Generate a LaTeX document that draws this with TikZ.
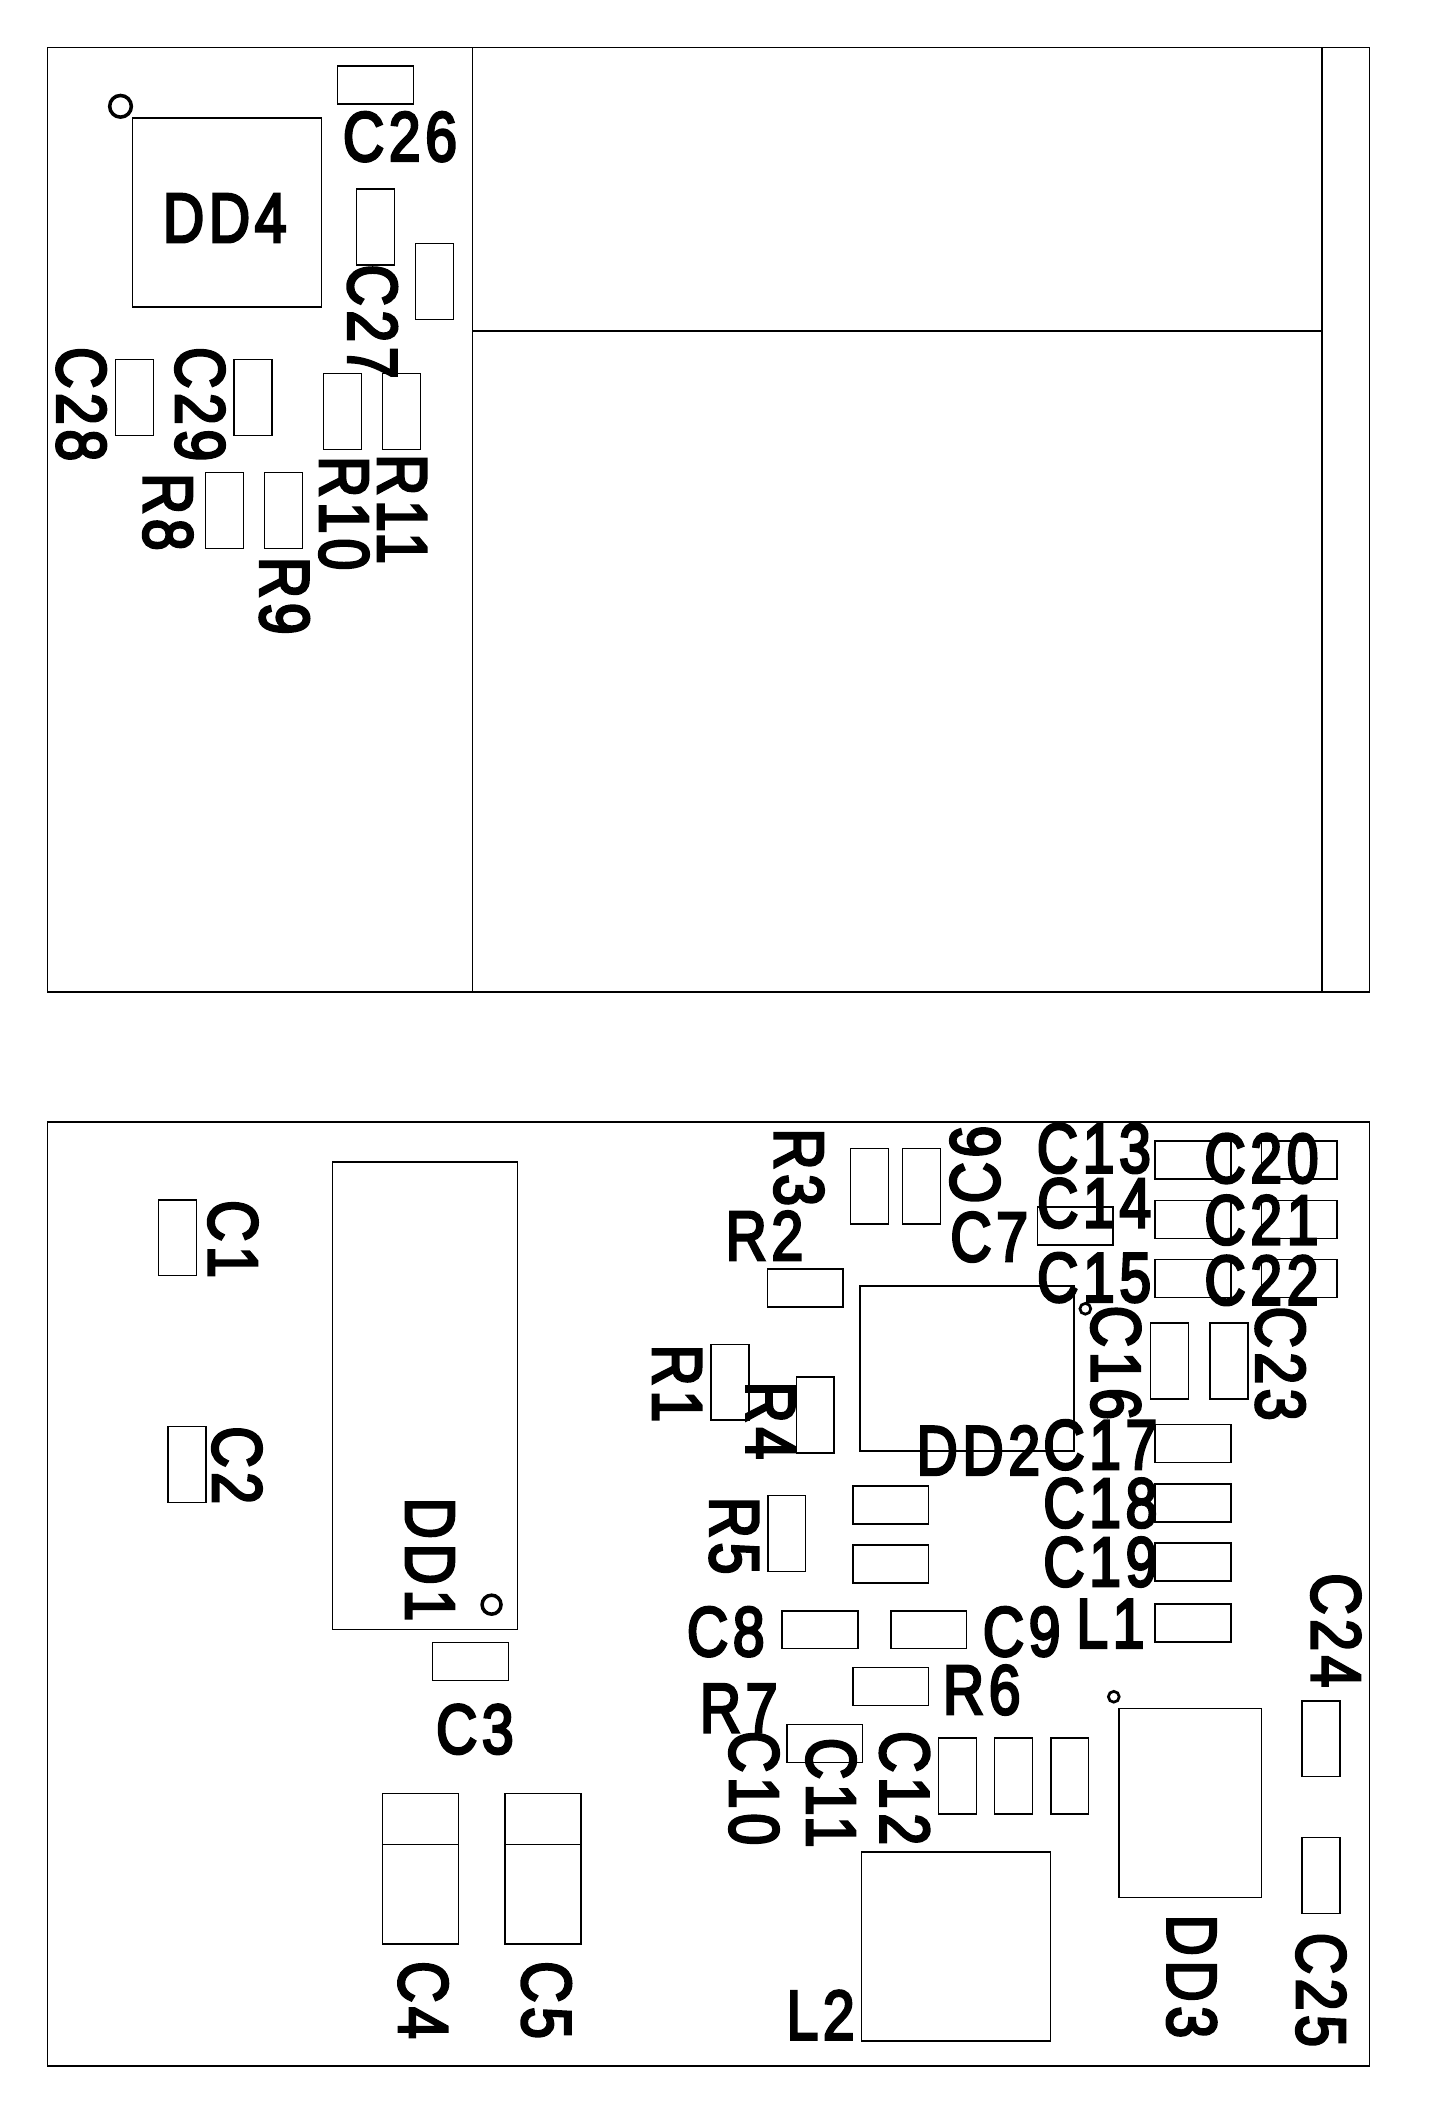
\documentclass[tikz,border=0pt]{standalone}
\usepackage{fontspec}
\setmainfont{Liberation Sans}
\newfontfamily\reffont[FakeBold=4,LetterSpace=8]{Liberation Sans}
\usepackage{tikz}

\begin{document}
\begin{tikzpicture}[x=1pt,y=-1pt]

\tikzstyle{board} = [line width=1.1pt]
\tikzstyle{outline} = [rectangle, draw=black, line width=1.1pt, inner sep=0pt]
\tikzstyle{padh} = [outline, minimum width=56pt, minimum height=28pt]
\tikzstyle{padv} = [outline, minimum width=28pt, minimum height=56pt]
\tikzstyle{chip} = [outline]
\tikzstyle{pin} = [circle, draw=black, line width=2.6pt, inner sep=0pt]
\tikzstyle{ref} = [inner sep=0pt, font=\reffont\fontsize{51.6}{52}\selectfont]
\tikzstyle{refcw} = [ref, rotate=-90]
\tikzstyle{refccw} = [ref, rotate=90]
\newcommand{\nm}[1]{\scalebox{0.82}[1]{#1}}

\useasboundingbox (0,0) rectangle (1066.2,1570);

% Upper board
\coordinate (ua) at (35,35);
\coordinate (ub) at (1011.5,732.5);
\coordinate (us) at (349,35);
\coordinate (ue) at (349,732.5);
\coordinate (ut) at (976.5,35);
\coordinate (uf) at (976.5,732.5);
\coordinate (um) at (349,244.5);
\coordinate (un) at (976.5,244.5);
\draw [board] (ua) rectangle (ub);
\draw [board] (us) -- (ue);
\draw [line width=1.5pt] (ut) -- (uf);
\draw [board] (um) -- (un);

\node (dd4) [chip, minimum width=139.5pt, minimum height=139.5pt] at (167.7,157) {};
\node (dd4pin) [pin, minimum size=16pt] at (89,78.5) {};
\node (c26) [padh] at (277.3,62.8) {};
\node (c27) [padv] at (277.4,167.6) {};
\node (c27b) [padv] at (321,208) {};
\node (c28) [padv] at (99.4,293.5) {};
\node (c29) [padv] at (186.9,293.5) {};
\node (r10) [padv] at (253,304) {};
\node (r11) [padv] at (296.5,304) {};
\node (r8) [padv] at (165.8,377) {};
\node (r9) [padv] at (209.2,377) {};

\node (dd4txt) [ref] at (166,161) {\nm{DD4}};
\node (c26txt) [ref] at (295.4,101) {\nm{C26}};
\node (c27txt) [refcw] at (275,237.5) {\nm{C27}};
\node (c28txt) [refcw] at (60,298.5) {\nm{C28}};
\node (c29txt) [refcw] at (147.7,298.5) {\nm{C29}};
\node (r8txt) [refcw] at (124,378) {\nm{R8}};
\node (r9txt) [refcw] at (210,440) {\nm{R9}};
\node (r10txt) [refcw] at (254,379) {\nm{R10}};
\node (r11txt) [refcw] at (297,376) {\nm{R11}};

% Lower board
\coordinate (la) at (35,828.5);
\coordinate (lb) at (1011.5,1525.5);
\draw [board] (la) rectangle (lb);

\node (dd1) [chip, minimum width=136.4pt, minimum height=345pt] at (313.8,1030.7) {};
\node (dd1pin) [pin, minimum size=14pt] at (363,1185) {};
\node (c1) [padv] at (131,914) {};
\node (c2) [padv] at (138,1081.5) {};
\node (c3) [padh] at (347.5,1227) {};
\node (c4) [chip, minimum width=56pt, minimum height=111pt] at (310.5,1380) {};
\node (c5) [chip, minimum width=56pt, minimum height=111pt] at (401,1380) {};
\draw [board] (c4.west |- 0,1362) -- (c4.east |- 0,1362);
\draw [board] (c5.west |- 0,1362) -- (c5.east |- 0,1362);

\node (c1txt) [refcw] at (172,915) {\nm{C1}};
\node (c2txt) [refcw] at (175,1082) {\nm{C2}};
\node (dd1txt) [refcw] at (317.5,1151.6) {\nm{DD1}};
\node (c3txt) [ref] at (350.7,1277) {\nm{C3}};
\node (c4txt) [refcw] at (312.5,1477) {\nm{C4}};
\node (c5txt) [refcw] at (403.5,1477) {\nm{C5}};

\node (dd2) [chip, minimum width=158pt, minimum height=122pt] at (714,1010.5) {};
\node (dd2pin) [pin, minimum size=8pt, line width=2pt] at (801.5,966.5) {};
\node (r3) [padv] at (642,876) {};
\node (c6) [padv] at (680.5,876) {};
\node (c7) [padh] at (794,905.5) {};
\node (r2) [padh] at (594.7,951) {};
\node (c13) [padh] at (881,856.5) {};
\node (c14) [padh] at (881,900.5) {};
\node (c15) [padh] at (881,944) {};
\node (c20) [padh] at (959.5,856.5) {};
\node (c21) [padh] at (959.5,900.5) {};
\node (c22) [padh] at (959.5,944) {};
\node (c16) [padv] at (863.5,1005) {};
\node (c23) [padv] at (907.5,1005) {};
\node (c17) [padh] at (881,1066) {};
\node (c18) [padh] at (881,1110) {};
\node (c19) [padh] at (881,1153.5) {};
\node (r1) [padv] at (539,1020.7) {};
\node (r4) [padv] at (602,1045) {};
\node (r5) [padv] at (581,1132.5) {};
\node (ra) [padh] at (657.8,1111.5) {};
\node (rb) [padh] at (657.8,1155) {};
\node (c8) [padh] at (605.5,1203.5) {};
\node (c9) [padh] at (685.8,1203.5) {};
\node (l1) [padh] at (881,1198.5) {};
\node (r6) [padh] at (657.8,1245.5) {};
\node (r7) [padh] at (609,1287.5) {};
\node (c10) [padv] at (707,1311.5) {};
\node (c11) [padv] at (748.5,1311.5) {};
\node (c12) [padv] at (790,1311.5) {};
\node (dd3) [chip, minimum width=105pt, minimum height=139.5pt] at (879,1331.5) {};
\node (dd3pin) [pin, minimum size=8pt, line width=2pt] at (822.5,1253) {};
\node (c24) [padv] at (975.5,1284) {};
\node (c25) [padv] at (975.5,1385) {};
\node (l2) [chip, minimum width=139.5pt, minimum height=139.5pt] at (706,1437.5) {};

\node (r3txt) [refcw] at (590,862) {\nm{R3}};
\node (c6txt) [refccw] at (720,860) {\nm{C6}};
\node (c13txt) [ref] at (807.8,848) {\nm{C13}};
\node (c14txt) [ref] at (808,888.5) {\nm{C14}};
\node (c15txt) [ref] at (808,943.5) {\nm{C15}};
\node (c7txt) [ref] at (730.5,913.5) {\nm{C7}};
\node (r2txt) [ref] at (564.5,912.5) {\nm{R2}};
\node (c20txt) [ref] at (931.6,855.5) {\nm{C20}};
\node (c21txt) [ref] at (931.6,901) {\nm{C21}};
\node (c22txt) [ref] at (931.6,945.5) {\nm{C22}};
\node (c16txt) [refcw] at (824,1006.4) {\nm{C16}};
\node (c23txt) [refcw] at (945.5,1007) {\nm{C23}};
\node (c17txt) [ref] at (812.6,1067) {\nm{C17}};
\node (c18txt) [ref] at (812.6,1110) {\nm{C18}};
\node (c19txt) [ref] at (812.6,1153.5) {\nm{C19}};
\node (dd2txt) [ref] at (722.5,1071) {\nm{DD2}};
\node (r1txt) [refcw] at (500,1021.6) {\nm{R1}};
\node (r4txt) [refcw] at (569,1049) {\nm{R4}};
\node (r5txt) [refcw] at (542,1134) {\nm{R5}};
\node (c24txt) [refcw] at (986.5,1204) {\nm{C24}};
\node (c8txt) [ref] at (536,1205) {\nm{C8}};
\node (c9txt) [ref] at (754.5,1205) {\nm{C9}};
\node (l1txt) [ref] at (820,1199) {\nm{L1}};
\node (r6txt) [ref] at (725,1248) {\nm{R6}};
\node (r7txt) [ref] at (545.5,1261.5) {\nm{R7}};
\node (c10txt) [refcw] at (556.8,1320.5) {\nm{C10}};
\node (c11txt) [refcw] at (613.7,1324) {\nm{C11}};
\node (c12txt) [refcw] at (668,1320.5) {\nm{C12}};
\node (dd3txt) [refcw] at (880,1459.5) {\nm{DD3}};
\node (c25txt) [refcw] at (975.5,1469.5) {\nm{C25}};
\node (l2txt) [ref] at (606,1488) {\nm{L2}};

\end{tikzpicture}
\end{document}
